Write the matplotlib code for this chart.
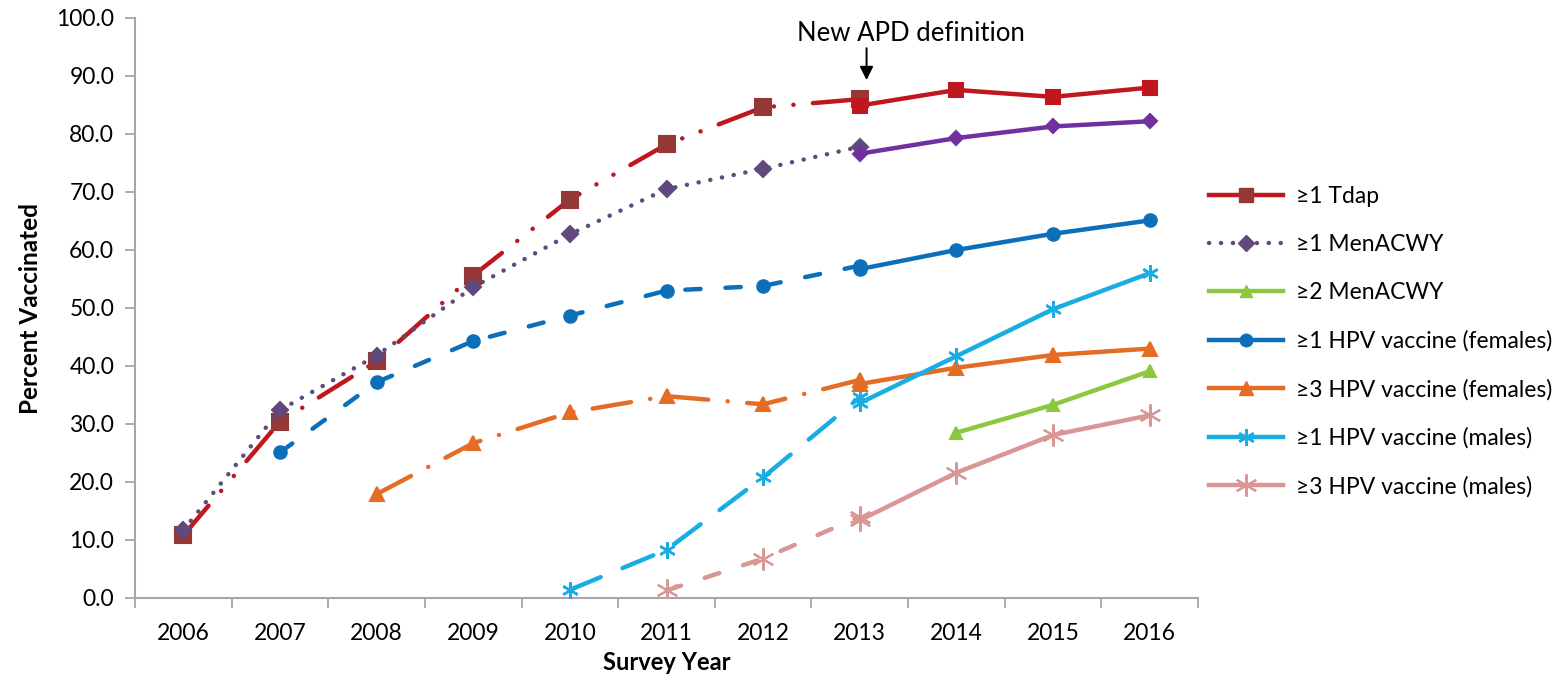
import matplotlib
matplotlib.use("Agg")
import matplotlib.pyplot as plt
from matplotlib.lines import Line2D
import numpy as np

plt.rcParams['font.family'] = ['Lato', 'DejaVu Sans']
plt.rcParams['lines.scale_dashes'] = False

years = [2006, 2007, 2008, 2009, 2010, 2011, 2012, 2013, 2014, 2015, 2016]

# Old definition (2006-2013) and new APD definition (2013-2016)
tdap_old_x = [2006, 2007, 2008, 2009, 2010, 2011, 2012, 2013]
tdap_old = [10.8, 30.4, 40.8, 55.6, 68.7, 78.2, 84.6, 86.0]
tdap_new_x = [2013, 2014, 2015, 2016]
tdap_new = [84.9, 87.6, 86.4, 88.0]

men1_old_x = [2006, 2007, 2008, 2009, 2010, 2011, 2012, 2013]
men1_old = [11.7, 32.4, 41.8, 53.6, 62.7, 70.5, 74.0, 77.8]
men1_new_x = [2013, 2014, 2015, 2016]
men1_new = [76.6, 79.3, 81.3, 82.2]

men2_new_x = [2014, 2015, 2016]
men2_new = [28.5, 33.3, 39.1]

hpvf1_old_x = [2007, 2008, 2009, 2010, 2011, 2012, 2013]
hpvf1_old = [25.1, 37.2, 44.3, 48.7, 53.0, 53.8, 57.3]
hpvf1_new_x = [2013, 2014, 2015, 2016]
hpvf1_new = [56.7, 60.0, 62.8, 65.1]

hpvf3_old_x = [2008, 2009, 2010, 2011, 2012, 2013]
hpvf3_old = [17.9, 26.7, 32.0, 34.8, 33.4, 37.6]
hpvf3_new_x = [2013, 2014, 2015, 2016]
hpvf3_new = [36.9, 39.7, 41.9, 43.0]

hpvm1_old_x = [2010, 2011, 2012, 2013]
hpvm1_old = [1.4, 8.3, 20.8, 34.6]
hpvm1_new_x = [2013, 2014, 2015, 2016]
hpvm1_new = [33.6, 41.7, 49.8, 56.0]

hpvm3_old_x = [2011, 2012, 2013]
hpvm3_old = [1.3, 6.8, 14.0]
hpvm3_new_x = [2013, 2014, 2015, 2016]
hpvm3_new = [13.4, 21.6, 28.1, 31.5]

labels = ["≥1 Tdap", "≥1 MenACWY", "≥2 MenACWY", "≥1 HPV vaccine (females)",
          "≥3 HPV vaccine (females)", "≥1 HPV vaccine (males)", "≥3 HPV vaccine (males)"]

fig = plt.figure(figsize=(15.62, 6.74), dpi=100)
ax = fig.add_axes([135/1562, 76/674, (1198-135)/1562, (598-18)/674])

LW = 3.2
aster = (6, 2, 0)

def plot_old(x, y, color, mcolor, marker, ms, ls, lw=LW, mew=1.5):
    ax.plot(x, y, color=color, lw=lw, ls=ls, solid_capstyle='round', dash_capstyle='round',
            marker=marker, ms=ms, mfc=mcolor, mec=mcolor, mew=mew, zorder=3)

def plot_new(x, y, color, marker, ms, lw=LW, mew=1.5):
    ax.plot(x, y, color=color, lw=lw, solid_capstyle='round', marker=marker, ms=ms,
            mfc=color, mec=color, mew=mew, zorder=4)

c_tdap = '#C0171F'; m_tdap = '#953735'
c_men_old = '#604A7B'; c_men = '#7030A0'
c_men2 = '#8DC63F'
c_f1 = '#0B6FBA'
c_f3 = '#E46C24'
c_m1 = '#19ADE4'
c_m3 = '#D99694'

plot_old(tdap_old_x, tdap_old, c_tdap, m_tdap, 's', 11, (0, (28, 14, 0.1, 14, 0.1, 14)))
plot_new(tdap_new_x, tdap_new, c_tdap, 's', 10)

plot_old(men1_old_x, men1_old, c_men_old, c_men_old, 'D', 8, (0, (0.1, 8.5)), lw=3.2)
plot_new(men1_new_x, men1_new, c_men, 'D', 7)

plot_new(men2_new_x, men2_new, c_men2, '^', 9)

plot_old(hpvf1_old_x, hpvf1_old, c_f1, c_f1, 'o', 9, (0, (11, 18)))
plot_new(hpvf1_new_x, hpvf1_new, c_f1, 'o', 9)

plot_old(hpvf3_old_x, hpvf3_old, c_f3, c_f3, '^', 10, (0, (28, 14, 0.1, 14)))
plot_new(hpvf3_new_x, hpvf3_new, c_f3, '^', 10)

plot_old(hpvm1_old_x, hpvm1_old, c_m1, c_m1, aster, 12, (0, (24, 17)), mew=1.8)
plot_new(hpvm1_new_x, hpvm1_new, c_m1, aster, 12, mew=1.8)

plot_old(hpvm3_old_x, hpvm3_old, c_m3, c_m3, aster, 16, (0, (11, 18)), mew=1.5)
plot_new(hpvm3_new_x, hpvm3_new, c_m3, aster, 16, mew=1.5)

ax.set_xlim(2005.5, 2016.5)
ax.set_ylim(0, 100)
ax.set_yticks(np.arange(0, 101, 10))
ax.set_yticklabels([f"{v:.1f}" for v in np.arange(0, 101, 10)])
ax.set_xticks(years)
ax.set_xticklabels([str(y) for y in years])
ax.set_xticks(np.arange(2005.5, 2016.6, 1), minor=True)
ax.tick_params(axis='x', which='major', length=0, pad=18, labelsize=16.5)
ax.tick_params(axis='x', which='minor', length=7, width=1.3, color='#A6A6A6')
ax.tick_params(axis='y', which='major', length=7, width=1.3, color='#A6A6A6', labelsize=16.5, pad=8)
for s in ['top', 'right']:
    ax.spines[s].set_visible(False)
for s in ['left', 'bottom']:
    ax.spines[s].set_color('#A6A6A6')
    ax.spines[s].set_linewidth(1.5)

ax.set_xlabel("Survey Year", fontsize=17, fontweight='bold', labelpad=5)
ax.set_ylabel("Percent Vaccinated", fontsize=17.5, fontweight='bold', labelpad=10)

ax.text(2013.53, 97.3, "New APD definition", fontsize=18.5, ha='center', va='center')
ax.annotate("", xy=(2013.07, 89.3), xytext=(2013.07, 94.8),
            arrowprops=dict(arrowstyle='-|>', color='black', lw=1.4,
                            mutation_scale=20, shrinkA=0, shrinkB=0))

handles = [
    Line2D([], [], color=c_tdap, lw=LW, marker='s', ms=10, mfc=m_tdap, mec=m_tdap),
    Line2D([], [], color=c_men_old, lw=LW, ls=(0, (0.1, 8.5)), dash_capstyle='round', marker='D', ms=8, mfc=c_men_old, mec=c_men_old),
    Line2D([], [], color=c_men2, lw=LW, marker='^', ms=9, mfc=c_men2, mec=c_men2),
    Line2D([], [], color=c_f1, lw=LW, marker='o', ms=9, mfc=c_f1, mec=c_f1),
    Line2D([], [], color=c_f3, lw=LW, marker='^', ms=10, mfc=c_f3, mec=c_f3),
    Line2D([], [], color=c_m1, lw=LW, marker=aster, ms=12, mew=1.8, mfc=c_m1, mec=c_m1),
    Line2D([], [], color=c_m3, lw=LW, marker=aster, ms=16, mew=1.5, mfc=c_m3, mec=c_m3),
]
fig.legend(handles, labels, loc='upper left', bbox_to_anchor=(1200/1562, 1 - 177/674),
           frameon=False, fontsize=16.5, handlelength=3.2, handletextpad=0.6,
           labelspacing=1.18, borderaxespad=0)

fig.savefig("out.png", dpi=100)
